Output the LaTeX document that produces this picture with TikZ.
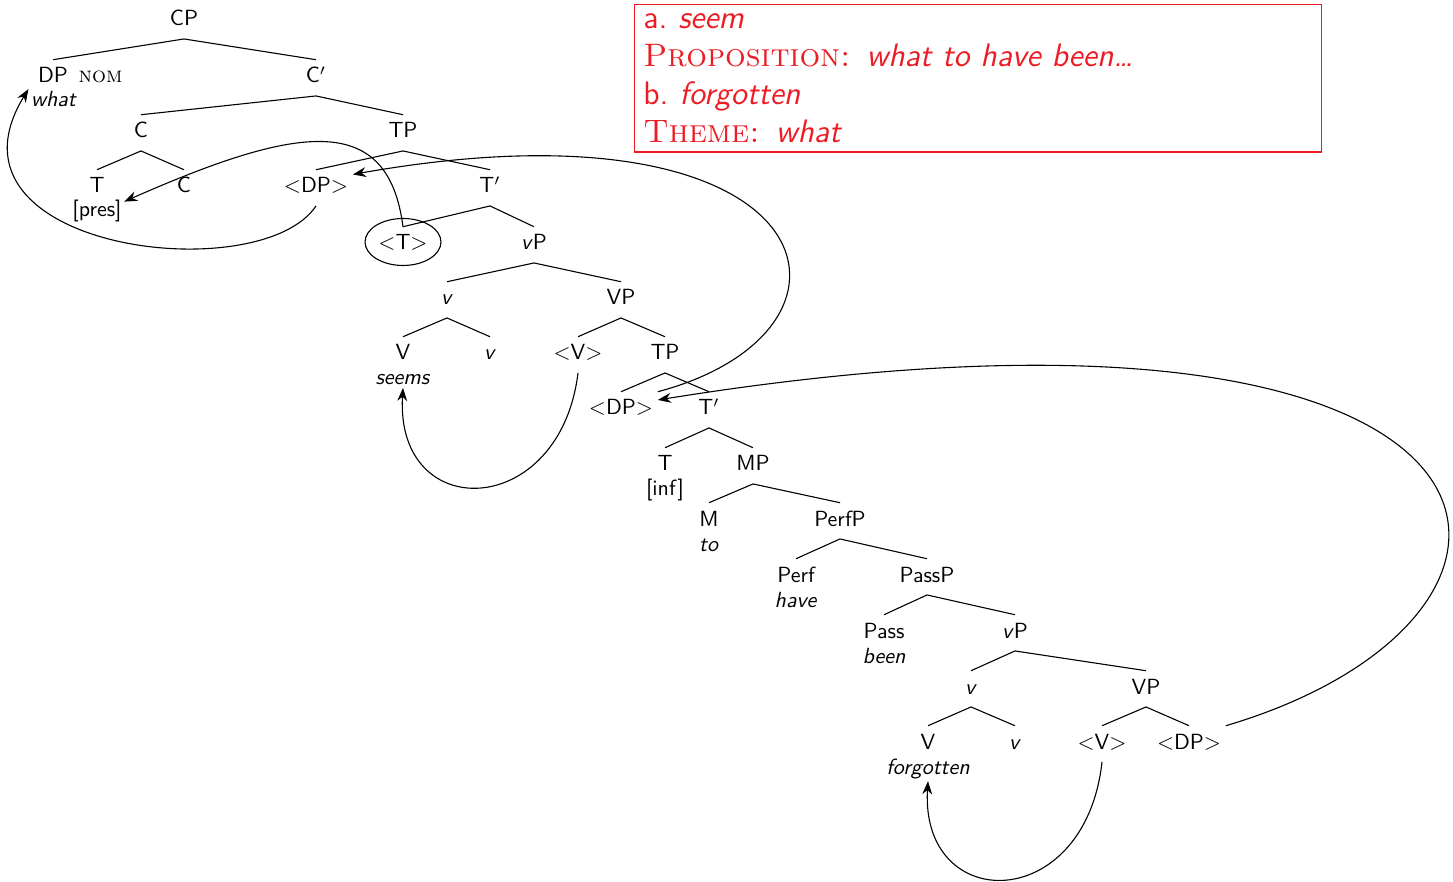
\documentclass[tikz,border=0pt]{standalone}
\usepackage{tikz}
\usetikzlibrary{arrows.meta}
\definecolor{boxred}{RGB}{237,28,36}
\tikzset{
	cat/.style={anchor=base, text height=7pt, text depth=2.3pt, inner ysep=3.4pt, inner xsep=2pt},
	gloss/.style={anchor=base, inner sep=1pt},
	branch/.style={line width=0.5pt},
	move/.style={line width=0.5pt, -{Stealth[length=6pt,width=4.5pt]}},
}

\begin{document}
\begin{tikzpicture}[x=0.016cm, y=-0.016cm, font=\sffamily]
	\useasboundingbox (0,0) rectangle (1453,882);
	% CP layer
	\node[cat] (cp) at (184,26) {CP};
	\node[cat] (dpnom) at (53,83) {DP};
	\node[gloss, anchor=base west, font=\rmfamily\scshape] (nom) at ([xshift=1.5pt]dpnom.base east) {nom};
	\node[gloss] (what) at (54,107) {\textit{what}};
	\node[cat] (cbar) at (316,83) {C$'$};
	\node[cat] (c) at (141,138) {C};
	\node[cat] (tp) at (403,138) {TP};
	\node[cat] (t) at (97,193) {T};
	\node[gloss] (pres) at (97,217) {[pres]};
	\node[cat] (cc) at (184,193) {C};
	\node[cat] (dpa) at (316,193) {$<$DP$>$};
	\node[cat] (tbar) at (490,193) {T$'$};
	\node[cat] (ta) at (403,250) {$<$T$>$};
	\node[cat] (vp) at (534,250) {\textit{v}P};
	% seem
	\node[cat] (vsm) at (447,305) {\textit{v}};
	\node[cat] (vpbig) at (621,305) {VP};
	\node[cat] (vseem) at (403,360) {V};
	\node[gloss] (seems) at (403,385) {\textit{seems}};
	\node[cat] (vsmb) at (490,360) {\textit{v}};
	\node[cat] (va) at (578,360) {$<$V$>$};
	\node[cat] (tpb) at (665,360) {TP};
	\node[cat] (dpb) at (621,415) {$<$DP$>$};
	\node[cat] (tbarb) at (709,415) {T$'$};
	\node[cat] (tb) at (665,471) {T};
	\node[gloss] (inf) at (665,495) {[inf]};
	\node[cat] (mp) at (753,471) {MP};
	\node[cat] (m) at (709,526) {M};
	\node[gloss] (to) at (709,551) {\textit{to}};
	\node[cat] (perfp) at (840,526) {PerfP};
	\node[cat] (perf) at (796,582) {Perf};
	\node[gloss] (have) at (796,607) {\textit{have}};
	\node[cat] (passp) at (927,582) {PassP};
	\node[cat] (pass) at (884,638) {Pass};
	\node[gloss] (been) at (884,663) {\textit{been}};
	% forget
	\node[cat] (vpc) at (1015,638) {\textit{v}P};
	\node[cat] (vsmc) at (971,694) {\textit{v}};
	\node[cat] (vpbigc) at (1146,694) {VP};
	\node[cat] (vforg) at (928,749) {V};
	\node[gloss] (forgotten) at (928,774) {\textit{forgotten}};
	\node[cat] (vsmd) at (1015,749) {\textit{v}};
	\node[cat] (vb) at (1102,749) {$<$V$>$};
	\node[cat] (dpc) at (1189,749) {$<$DP$>$};

	\draw[branch] (cp.south) -- (dpnom.north) (cp.south) -- (cbar.north);
	\draw[branch] (cbar.south) -- (c.north) (cbar.south) -- (tp.north);
	\draw[branch] (c.south) -- (t.north) (c.south) -- (cc.north);
	\draw[branch] (tp.south) -- (dpa.north) (tp.south) -- (tbar.north);
	\draw[branch] (tbar.south) -- (ta.north) (tbar.south) -- (vp.north);
	\draw[branch] (vp.south) -- (vsm.north) (vp.south) -- (vpbig.north);
	\draw[branch] (vsm.south) -- (vseem.north) (vsm.south) -- (vsmb.north);
	\draw[branch] (vpbig.south) -- (va.north) (vpbig.south) -- (tpb.north);
	\draw[branch] (tpb.south) -- (dpb.north) (tpb.south) -- (tbarb.north);
	\draw[branch] (tbarb.south) -- (tb.north) (tbarb.south) -- (mp.north);
	\draw[branch] (mp.south) -- (m.north) (mp.south) -- (perfp.north);
	\draw[branch] (perfp.south) -- (perf.north) (perfp.south) -- (passp.north);
	\draw[branch] (passp.south) -- (pass.north) (passp.south) -- (vpc.north);
	\draw[branch] (vpc.south) -- (vsmc.north) (vpc.south) -- (vpbigc.north);
	\draw[branch] (vsmc.south) -- (vforg.north) (vsmc.south) -- (vsmd.north);
	\draw[branch] (vpbigc.south) -- (vb.north) (vpbigc.south) -- (dpc.north);

	\draw[branch] ([yshift=1.3pt]ta.center) ellipse [x radius=17.3pt, y radius=10.7pt];

	% movement arrows
	\draw[move] (ta.north) .. controls (388,112) and (300,124) .. (pres.20);
	\draw[move] (dpa.south) .. controls (260,290) and (-70,250) .. (what.north west);
	\draw[move] (dpb.north east) .. controls (890,330) and (830,90) .. (dpa.20);
	\draw[move] (dpc.north east) .. controls (1600,615) and (1560,255) .. (dpb.15);
	\draw[move] (va.south) .. controls (560,520) and (395,525) .. (seems.south);
	\draw[move] (vb.south) .. controls (1085,915) and (920,915) .. (forgotten.south);

	\node[draw=boxred, line width=0.5pt, text=boxred, anchor=north west, align=left,
		text width=305pt, minimum height=66.5pt, inner xsep=4pt, inner ysep=4pt,
		font=\sffamily\fontsize{14.8}{17.4}\selectfont] (roles) at (634,4)
		{a.~\textit{seem}\\
		{\rmfamily\scshape Proposition:} \textit{what to have been\dots}\\
		b.~\textit{forgotten}\\
		{\rmfamily\scshape Theme:} \textit{what}};
\end{tikzpicture}
\end{document}
